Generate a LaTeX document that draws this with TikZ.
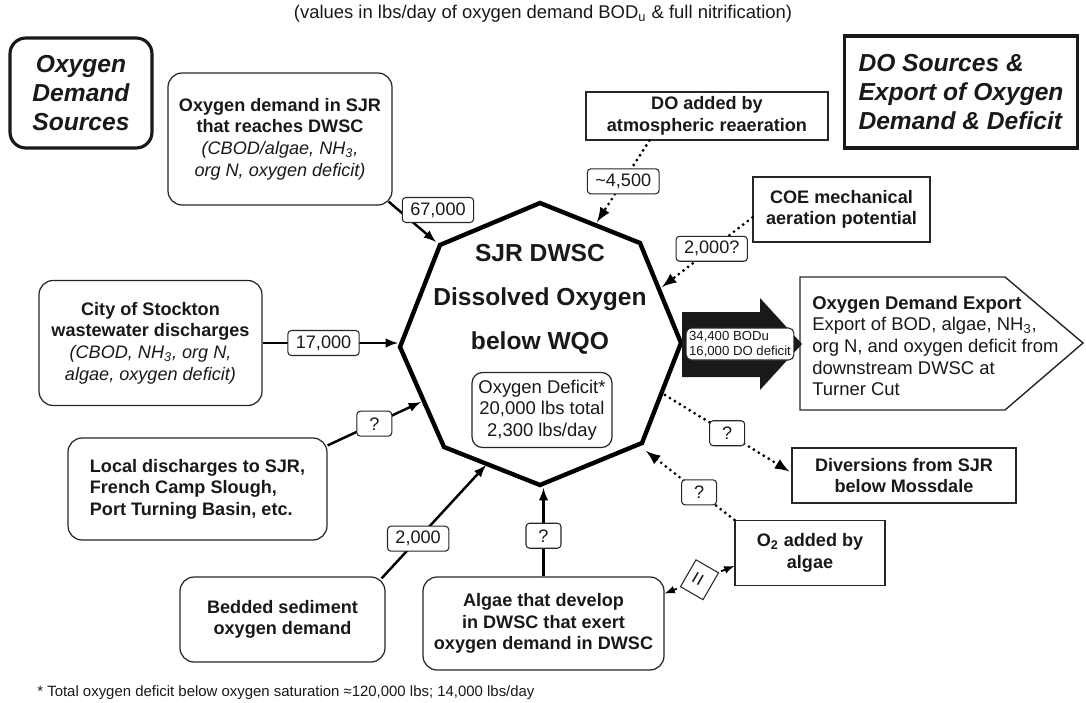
\documentclass[tikz,border=0pt]{standalone}
\usepackage{fontspec}
\setmainfont{Liberation Sans}
\usepackage{tikz}
\usetikzlibrary{calc,positioning,arrows}

\begin{document}
\begin{tikzpicture}[x=0.02cm,y=-0.02cm,inner sep=0.4mm,
  txt/.style={font=\fontsize{10.3}{12.3}\selectfont,text=black!90,align=center},
  rbox/.style={txt,draw=black!85,line width=0.7pt,rounded corners=8pt},
  sbox/.style={txt,draw=black!85,line width=0.7pt},
  head/.style={draw=black!90,line width=1.8pt,font=\fontsize{14}{16.4}\selectfont\bfseries\itshape,text=black!90},
  lbl/.style={txt,solid,draw=black!85,fill=white,line width=0.6pt,rounded corners=2pt,inner xsep=1.6mm,inner ysep=0.6mm,minimum height=0.5cm,minimum width=0.7cm},
  flow/.style={line width=1.4pt,-latex},
  dotflow/.style={line width=1.8pt,line cap=round,dash pattern=on 0pt off 3.3pt,-latex},
  octa/.style={line width=2.5pt,line join=miter}]
\useasboundingbox (0,0) rectangle (1086,703);

% octagon corners
\coordinate (T)  at (540,203);
\coordinate (UR) at (640,243);
\coordinate (R)  at (681,343);
\coordinate (LR) at (642,443);
\coordinate (B)  at (540,485);
\coordinate (LL) at (444,447);
\coordinate (L)  at (400,347);
\coordinate (UL) at (440,245);

% arrow ends on the octagon
\coordinate (a67) at (436,242);
\coordinate (a17) at (398,343);
\coordinate (aLoc) at (421,402);
\coordinate (aBed) at (486,465);
\coordinate (aAlg) at (543.5,488);
\coordinate (aO2) at (646,451);
\coordinate (aDiv) at (665,395);
\coordinate (aCoe) at (662,287);
\coordinate (aAtm) at (597,222);

\draw[octa] (T)--(UR)--(R)--(LR)--(B)--(LL)--(L)--(UL)--cycle;

\node[txt,font=\fontsize{10.5}{12}\selectfont] (ttl) at (543,14) {(values in lbs/day of oxygen demand BOD\textsubscript{u} \& full nitrification)};

\node[head,rounded corners=9pt,minimum width=2.84cm,minimum height=2.2cm,align=center] (srcT) at (81,93) {Oxygen\\Demand\\Sources};
\node[head,minimum width=4.66cm,minimum height=2.24cm,align=left] (doT) at (961,92) {DO Sources \&\\Export of Oxygen\\Demand \& Deficit};

% demand sources
\node[rbox,minimum width=4.48cm,minimum height=2.64cm] (demSJR) at (280,139)
  {\textbf{Oxygen demand in SJR}\\\textbf{that reaches DWSC}\\\textit{(CBOD/algae, NH\textsubscript{3},}\\\textit{org N, oxygen deficit)}};
\node[rbox,minimum width=4.46cm,minimum height=2.5cm] (city) at (150.5,343)
  {\textbf{City of Stockton}\\\textbf{wastewater discharges}\\\textit{(CBOD, NH\textsubscript{3}, org N,}\\\textit{algae, oxygen deficit)}};
\node[rbox,minimum width=5.18cm,minimum height=2.04cm,align=left,font=\fontsize{10.3}{12.3}\selectfont\bfseries] (local) at (197.5,489)
  {Local discharges to SJR,\\French Camp Slough,\\Port Turning Basin, etc.};
\node[rbox,minimum width=4.1cm,minimum height=1.7cm,font=\fontsize{10.3}{12.3}\selectfont\bfseries] (bedded) at (282.5,619.5)
  {Bedded sediment\\oxygen demand};
\node[rbox,minimum width=4.82cm,minimum height=1.86cm,font=\fontsize{10.3}{12.3}\selectfont\bfseries] (algae) at (543.5,623.5)
  {Algae that develop\\in DWSC that exert\\oxygen demand in DWSC};

% DO sources and exports
\node[sbox,minimum width=4.84cm,minimum height=0.96cm,font=\fontsize{10.3}{12.3}\selectfont\bfseries] (atm) at (707,116)
  {DO added by\\atmospheric reaeration};
\node[sbox,minimum width=3.54cm,minimum height=1.3cm,font=\fontsize{10.3}{12.3}\selectfont\bfseries] (coe) at (841.5,209.5)
  {COE mechanical\\aeration potential};
\node[sbox,minimum width=4.48cm,minimum height=1.1cm,font=\fontsize{10.3}{12.3}\selectfont\bfseries] (div) at (904,475.5)
  {Diversions from SJR\\below Mossdale};
\node[sbox,minimum width=3cm,minimum height=1.3cm,font=\fontsize{10.3}{12.3}\selectfont\bfseries] (o2) at (810,553)
  {O\textsubscript{2} added by\\algae};

\draw[line width=0.8pt,draw=black!85] (800,277)--(1005,277)--(1083,343)--(1005,410)--(800,410)--cycle;
\node[txt,font=\fontsize{10.5}{12.3}\selectfont,align=left,anchor=west,inner sep=0pt] (expo) at (812,346)
  {\textbf{Oxygen Demand Export}\\Export of BOD, algae, NH\textsubscript{3},\\org N, and oxygen deficit from\\downstream DWSC at\\Turner Cut};

% big export arrow
\fill[black!90] (682,312)--(760,312)--(760,298)--(802,344)--(760,390)--(760,377)--(682,377)--cycle;
\node[lbl,font=\fontsize{7.5}{8.6}\selectfont,align=left,inner xsep=0.6mm,rounded corners=3pt] (lbig) at (740,344)
  {34,400 BODu\\16,000 DO deficit};

% inner deficit box
\node[rbox,font=\fontsize{10.5}{12.3}\selectfont,rounded corners=6pt,minimum width=2.8cm,minimum height=1.5cm] (defc) at (542,410)
  {Oxygen Deficit*\\20,000 lbs total\\2,300 lbs/day};

\node[font=\fontsize{14}{25}\selectfont\bfseries,align=center,text=black!90] (dwsc) at (540,299)
  {SJR DWSC\\Dissolved Oxygen\\below WQO};

% connectors
\draw[flow] ([shift={(-4,-4)}]demSJR.south east) -- (a67);
\node[lbl] (l67) at (438,210) {67,000};
\draw[flow] (city.east) -- node[lbl,pos=0.45] (l17) {17,000} (a17);
\draw[flow] ([shift={(0,8)}]local.north east) -- node[lbl] (lq1) {?} (aLoc);
\draw[flow] ([shift={(-4,2)}]bedded.north east) -- node[lbl,pos=0.35] (l2k) {2,000} (aBed);
\draw[flow] (algae.north) -- node[lbl,pos=0.46] (lq2) {?} (aAlg);
\draw[dotflow] (o2.north west) -- node[lbl,pos=0.4] (lq3) {?} (aO2);
\draw[dotflow] (aDiv) -- node[lbl] (lq4) {?} ([shift={(-2,-4)}]div.west);
\draw[dotflow] ([shift={(0,8)}]coe.west) -- node[lbl,pos=0.45] (l2q) {2,000?} (aCoe);
\draw[dotflow] ([shift={(64,0)}]atm.south west) -- node[lbl] (l45) {\char`~4,500} (aAtm);
\draw[line width=1pt,dashed,latex-latex] ([shift={(0,13)}]o2.west) -- node[lbl,rotate=60,font=\fontsize{13}{14}\selectfont,minimum width=0.62cm,minimum height=0.52cm,inner sep=0pt,rounded corners=0pt] (leq) {=} ([shift={(0,-30)}]algae.east);

\node[txt,anchor=west,font=\fontsize{8.5}{10}\selectfont] (fnote) at (35,693)
  {* Total oxygen deficit below oxygen saturation \char"2248 120,000 lbs; 14,000 lbs/day};
\end{tikzpicture}
\end{document}
